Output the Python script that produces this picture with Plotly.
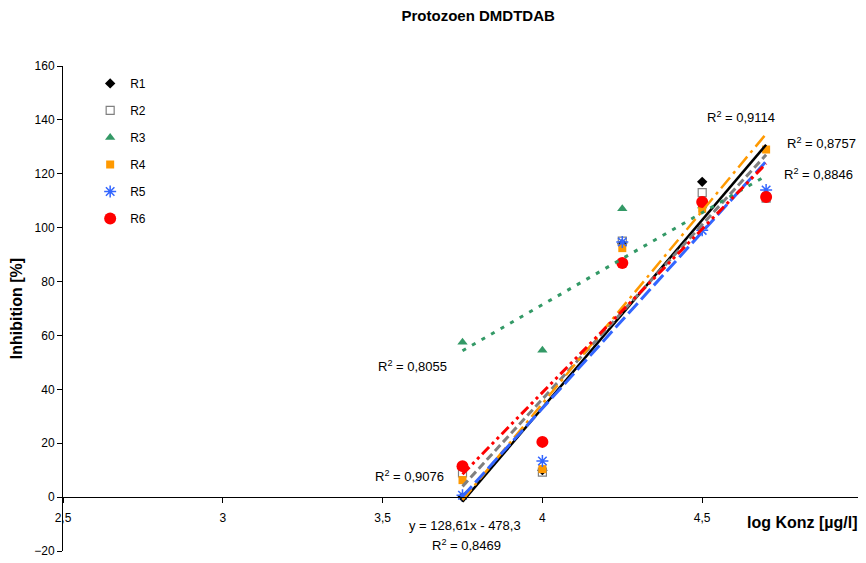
import numpy as np
import plotly.graph_objects as go

# ---- data ----
log_conc = [3.75, 4.0, 4.25, 4.5, 4.7]
series_names = ["R1", "R2", "R3", "R4", "R5", "R6"]
r1 = [0.0, 10.0, 94.0, 117.0, 112.0]
r2 = [9.0, 9.3, 95.0, 113.0, 111.0]
r3 = [57.5, 54.5, 107.0, 108.0, 112.0]
r4 = [6.3, 10.4, 92.4, 107.0, 129.0]
r5 = [0.7, 13.4, 94.7, 99.0, 114.0]
r6 = [11.5, 20.5, 86.9, 109.5, 111.4]
r2_labels = ["R<sup>2</sup> = 0,9114", "R<sup>2</sup> = 0,8757", "R<sup>2</sup> = 0,8846",
             "R<sup>2</sup> = 0,8055", "R<sup>2</sup> = 0,9076"]
equation_label = "y = 128,61x - 478,3"
eq_r2_label = "R<sup>2</sup> = 0,8469"
x_ticks = [2.5, 3, 3.5, 4, 4.5, 5]
y_ticks = [-20, 0, 20, 40, 60, 80, 100, 120, 140, 160]

values = [r1, r2, r3, r4, r5, r6]
colors = ["#000000", "#808080", "#339966", "#FF9900", "#3366FF", "#FF0000"]
symbols = ["diamond", "square-open", "triangle-up", "square", "asterisk-open", "circle"]
msizes = [8, 8, 9, 8, 10, 12]
dashes = ["solid", "8px,4px", "4px,7px", "14px,5px,3px,5px", "14px,5px", "10px,4px,3px,4px,3px,4px"]
lwidths = [2.5, 3, 3, 2.5, 3, 3]

FONT = "Liberation Sans, Arial, sans-serif"
fig = go.Figure()

# markers
for name, ys, c, s, ms in zip(series_names, values, colors, symbols, msizes):
    mk = dict(color=c, size=ms, symbol=s)
    if s == "asterisk-open":
        mk["line"] = dict(color=c, width=1.5)
    elif s == "square-open":
        mk["line"] = dict(color=c, width=1.2)
    fig.add_trace(go.Scatter(x=log_conc, y=ys, mode="markers", name=name,
                             marker=mk, legendgroup=name, cliponaxis=False))

# linear trendlines computed from the data
for name, ys, c, d, w in zip(series_names, values, colors, dashes, lwidths):
    k, b = np.polyfit(log_conc, ys, 1)
    xs = np.array([log_conc[0], log_conc[-1]])
    fig.add_trace(go.Scatter(x=xs, y=k * xs + b, mode="lines", showlegend=False,
                             line=dict(color=c, dash=d, width=w), hoverinfo="skip",
                             cliponaxis=False))

ann_font = dict(family=FONT, size=13, color="#000")
ann_pos = [(4.621, 141.0), (4.872, 131.4), (4.865, 119.9), (3.592, 48.6), (3.583, 7.8)]
for txt, (ax, ay) in zip(r2_labels, ann_pos):
    fig.add_annotation(x=ax, y=ay, text=txt, showarrow=False, font=ann_font)
fig.add_annotation(x=3.758, y=-10.4, text=equation_label, showarrow=False, font=ann_font)
fig.add_annotation(x=3.761, y=-17.8, text=eq_r2_label, showarrow=False, font=ann_font)
fig.add_annotation(x=4.995, y=-9.6, text="<b>log Konz [µg/l]</b>", showarrow=False,
                   xanchor="right", font=dict(family=FONT, size=16, color="#000"))

# the page places the figure 8 px from the top-left corner of the window
fig.update_layout(
    width=858, height=555,
    margin=dict(l=55, r=4, t=58, b=12, autoexpand=False),
    paper_bgcolor="white", plot_bgcolor="white",
    separators=", ",
    font=dict(family=FONT, size=12, color="#000"),
    title=dict(text="<b>Protozoen DMDTDAB</b>", x=0.548, xanchor="center",
               y=0.995, yanchor="top", font=dict(family=FONT, size=15, color="#000")),
    showlegend=True,
    legend=dict(x=0.034, y=0.994, xanchor="left", yanchor="top",
                bgcolor="rgba(0,0,0,0)", tracegroupgap=8,
                font=dict(family=FONT, size=12, color="#000"), itemwidth=30),
    xaxis=dict(range=[2.5, 5], tickvals=x_ticks, showgrid=False, zeroline=False,
               showline=True, linecolor="#000", linewidth=1,
               ticks="outside", ticklen=5, tickcolor="#000", automargin=False,
               anchor="free", position=20 / 180, tickfont=dict(size=12),
               ticklabelstandoff=4),
    yaxis=dict(range=[-20, 160], tickvals=y_ticks, showgrid=False, zeroline=False,
               showline=True, linecolor="#000", linewidth=1,
               ticks="outside", ticklen=5, tickcolor="#000", automargin=False,
               title=dict(text="<b>Inhibition [%]</b>", standoff=8,
                          font=dict(family=FONT, size=16)),
               tickfont=dict(size=12)),
)

fig.write_html("out.html")
